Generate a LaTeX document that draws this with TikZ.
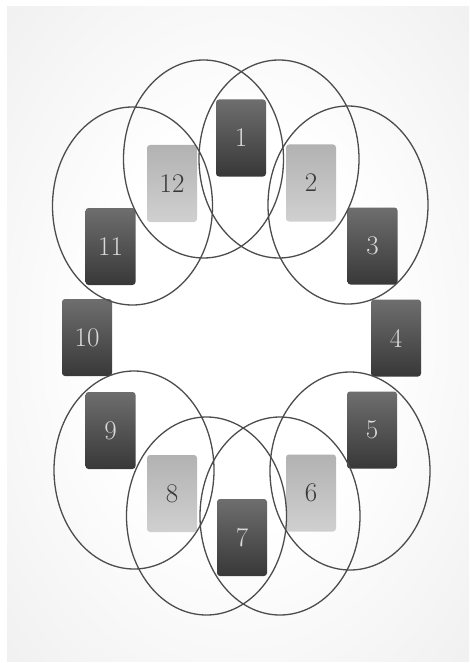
\documentclass[tikz,border=0pt]{standalone}
\usepackage{tikz}
\usetikzlibrary{shapes.geometric}
\definecolor{ringGray}{HTML}{4C4C4C}
\definecolor{darkTop}{HTML}{6E6E6E}
\definecolor{darkBot}{HTML}{383838}
\definecolor{lightTop}{HTML}{B2B2B2}
\definecolor{lightBot}{HTML}{D0D0D0}
\definecolor{panelMid}{HTML}{E6E6E6}
\definecolor{panelEdge}{HTML}{D9D9D9}
\pgfdeclareradialshading{panelGlow}{\pgfpoint{0bp}{0bp}}{color(0bp)=(white); color(15bp)=(white); color(50bp)=(panelMid); color(71bp)=(panelEdge)}

\begin{document}
\begin{tikzpicture}[x=1pt, y=-1pt,
    card/.style={rounded corners=3pt, minimum width=50pt, minimum height=77pt, inner sep=0pt, font=\fontsize{27}{30}\selectfont},
    dcard/.style={card, top color=darkTop, bottom color=darkBot, text=white!85!black},
    lcard/.style={card, top color=lightTop, bottom color=lightBot, text=black!78},
    ring/.style={draw=ringGray, line width=1.3pt, ellipse, minimum width=160pt, minimum height=198pt, inner sep=0pt}
  ]
    \useasboundingbox (0,0) rectangle (469,663);
    \fill[white] (0,0) rectangle (469,663);
    \shade[shading=panelGlow] (7,7) rectangle (469,661);
    % cards
    \node[dcard] (c1) at (241,138) {1};
    \node[lcard] (c2) at (311,183) {2};
    \node[dcard] (c3) at (372.5,246) {3};
    \node[dcard] (c4) at (396,338) {4};
    \node[dcard] (c5) at (372,430) {5};
    \node[lcard] (c6) at (311,493) {6};
    \node[dcard] (c7) at (242,537.5) {7};
    \node[lcard] (c8) at (172,493.5) {8};
    \node[dcard] (c9) at (110.5,430.5) {9};
    \node[dcard] (c10) at (87,337.5) {10};
    \node[dcard] (c11) at (110.5,246.5) {11};
    \node[lcard] (c12) at (172,183.5) {12};
    % rings
    \node[ring] (r1) at (203.5,159) {};
    \node[ring] (r2) at (279,159) {};
    \node[ring] (r3) at (132.5,206) {};
    \node[ring] (r4) at (348,205) {};
    \node[ring] (r5) at (134,470) {};
    \node[ring] (r6) at (206.5,516) {};
    \node[ring] (r7) at (280,516) {};
    \node[ring] (r8) at (350,471) {};
  \end{tikzpicture}
\end{document}
